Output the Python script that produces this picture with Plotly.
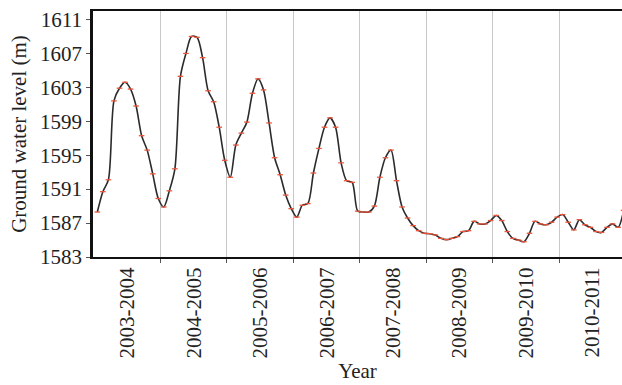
import plotly.graph_objects as go

# Monthly ground water level readings (m)
months = list(range(96))
levels = [
    1588.3, 1590.7, 1592.1, 1601.4, 1602.9, 1603.6, 1602.8, 1600.8, 1597.3, 1595.6, 1592.8, 1589.9,
    1588.9, 1590.8, 1593.4, 1604.3, 1607.0, 1609.0, 1608.9, 1606.5, 1602.6, 1601.3, 1598.3, 1594.4,
    1592.4, 1596.2, 1597.6, 1598.9, 1602.3, 1604.0, 1602.7, 1598.8, 1594.7, 1592.7, 1590.3, 1588.7,
    1587.7, 1589.1, 1589.3, 1592.9, 1595.8, 1598.3, 1599.4, 1598.3, 1594.1, 1592.0, 1591.8, 1588.4,
    1588.3, 1588.3, 1589.0, 1592.4, 1594.7, 1595.6, 1592.0, 1588.9, 1587.6, 1586.7, 1586.1, 1585.8,
    1585.75, 1585.6, 1585.2, 1585.05, 1585.2, 1585.4, 1586.0, 1586.1, 1587.2, 1586.9, 1586.9, 1587.3,
    1587.9, 1587.3, 1586.0, 1585.2, 1585.0, 1584.8, 1585.8, 1587.2, 1586.9, 1586.8, 1587.1, 1587.7,
    1588.0, 1587.1, 1586.2, 1587.4, 1586.8, 1586.5, 1586.0, 1585.9, 1586.5, 1586.9, 1586.5, 1588.5,
]
year_labels = ["2003-2004", "2004-2005", "2005-2006", "2006-2007",
               "2007-2008", "2008-2009", "2009-2010", "2010-2011"]
y_ticks = [1583, 1587, 1591, 1595, 1599, 1603, 1607, 1611]

label_pos = [5.4 + 12 * i for i in range(len(year_labels))]
boundary_pos = [11.4 + 12 * i for i in range(len(year_labels) - 1)]

FONT = "Liberation Serif"

fig = go.Figure()
fig.add_trace(go.Scatter(
    x=months, y=levels, mode="lines",
    line=dict(color="#2b2b2b", width=1.6, shape="spline", smoothing=0.8),
    hoverinfo="skip", showlegend=False,
))
fig.add_trace(go.Scatter(
    x=months, y=levels, mode="markers",
    marker=dict(symbol="line-ew-open", size=4, line=dict(color="#d98aa3", width=1.3)),
    showlegend=False,
))

fig.update_layout(
    width=622, height=385,
    margin=dict(l=93, r=0, t=11, b=128),
    paper_bgcolor="white", plot_bgcolor="white",
    font=dict(family=FONT, size=21, color="#222"),
    xaxis=dict(
        range=[-0.78, 94.7],
        tickmode="array", tickvals=label_pos, ticktext=year_labels,
        tickangle=-90, ticks="", showgrid=False, zeroline=False,
        showline=True, linecolor="#111", linewidth=2, mirror=True,
        minor=dict(tickmode="array", tickvals=boundary_pos, ticks="outside",
                   ticklen=4, tickcolor="#555", showgrid=True,
                   gridcolor="#c8c8c8", gridwidth=1),
        title=dict(text="Year", font=dict(family=FONT, size=21), standoff=6),
        tickfont=dict(family=FONT, size=21),
    ),
    yaxis=dict(
        range=[1583, 1612],
        tickmode="array", tickvals=y_ticks,
        ticks="outside", ticklen=4, tickcolor="#555",
        showgrid=False, zeroline=False,
        showline=True, linecolor="#111", linewidth=2.5, mirror=False,
        title=dict(text="Ground water level (m)", font=dict(family=FONT, size=21), standoff=8),
        tickfont=dict(family=FONT, size=21),
    ),
)

fig.write_html("out.html")
